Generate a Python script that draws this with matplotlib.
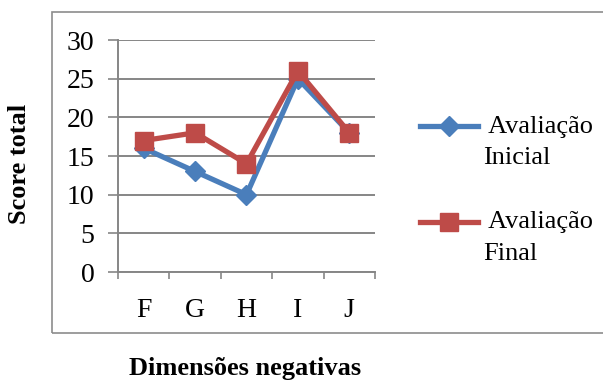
import matplotlib
matplotlib.use('Agg')
import matplotlib.pyplot as plt
from matplotlib.patches import Rectangle

categorias = ['F', 'G', 'H', 'I', 'J']
inicial = [16, 13, 10, 25, 18]
final = [17, 18, 14, 26, 18]
yticks = [0, 5, 10, 15, 20, 25, 30]

plt.rcParams['font.family'] = 'Liberation Serif'

W, H = 603, 381
fig = plt.figure(figsize=(W / 100, H / 100), dpi=100)
ax = fig.add_axes([118 / W, 1 - 272 / H, (375 - 118) / W, (272 - 40) / H])

x = range(len(categorias))
ax.plot(x, inicial, color='#4A7EBB', lw=3.8, marker='D', markersize=10,
        label=' Avaliação\nInicial')
ax.plot(x, final, color='#BE4B48', lw=3.8, marker='s', markersize=12.5,
        label=' Avaliação\nFinal')

ax.set_xlim(-0.5, len(categorias) - 0.5)
ax.set_ylim(0, 30)
ax.set_yticks(yticks)
ax.set_xticks(x)
ax.set_xticklabels(categorias)
ax.set_xticks([i - 0.5 for i in range(len(categorias) + 1)], minor=True)
ax.tick_params(axis='x', which='major', length=0, pad=19, labelsize=20)
ax.tick_params(axis='x', which='minor', length=5, width=1.2, color='#868686', direction='out')
ax.tick_params(axis='y', length=7, width=1.2, color='#868686', pad=10, labelsize=20)
ax.grid(axis='y', color='#868686', lw=1.4)
ax.set_axisbelow(True)
for s in ['top', 'right']:
    ax.spines[s].set_visible(False)
for s in ['left', 'bottom']:
    ax.spines[s].set_color('#868686')
    ax.spines[s].set_linewidth(1.4)

leg = ax.legend(loc='upper left', bbox_to_anchor=(396 / W, 1 - 92 / H),
                bbox_transform=fig.transFigure, frameon=False, fontsize=19,
                handlelength=2.2, handletextpad=0.2, labelspacing=1.6)
for t in leg.get_texts():
    t.set_linespacing(1.55)
for ln in leg.get_lines():
    ln.set_ydata([y + 11 for y in ln.get_ydata()])

fig.text(20 / W, 1 - 164 / H, 'Score total', rotation=90, ha='center', va='center',
         fontsize=19, fontweight='bold')
fig.text(245 / W, 1 - 369 / H, 'Dimensões negativas', ha='center', va='center',
         fontsize=19, fontweight='bold')

fig.patches.append(Rectangle((52 / W, 1 - 333 / H), 1, (333 - 12) / H,
                             transform=fig.transFigure, fill=False,
                             edgecolor='#8c8c8c', lw=1.2))

fig.savefig('out.png', dpi=100)
